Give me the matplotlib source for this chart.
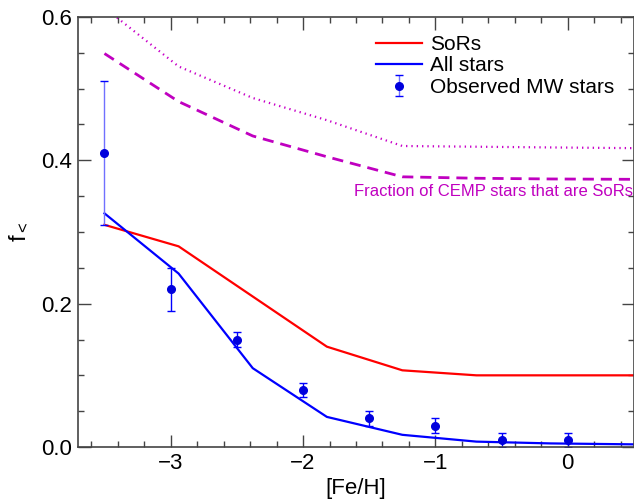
import matplotlib
matplotlib.use("Agg")
import matplotlib.pyplot as plt
from matplotlib.ticker import MultipleLocator

plt.rcParams['font.family'] = ['Liberation Sans', 'DejaVu Sans']
plt.rcParams['mathtext.fontset'] = 'custom'
plt.rcParams['mathtext.rm'] = 'Liberation Sans'
plt.rcParams['mathtext.it'] = 'Liberation Sans'

# model grid in [Fe/H]
feh_model = [-3.5, -2.94, -2.38, -1.82, -1.25, -0.69, -0.13, 0.5]
sors = [0.31, 0.28, 0.21, 0.14, 0.107, 0.100, 0.100, 0.100]
all_stars = [0.326, 0.242, 0.110, 0.042, 0.017, 0.0075, 0.005, 0.0037]
cemp_dashed = [0.549, 0.482, 0.434, 0.405, 0.377, 0.375, 0.374, 0.3735]
cemp_dotted = [0.613, 0.531, 0.487, 0.456, 0.420, 0.419, 0.418, 0.417]

# observed Milky Way stars
feh_obs = [-3.5, -3.0, -2.5, -2.0, -1.5, -1.0, -0.5, 0.0]
f_obs = [0.41, 0.22, 0.15, 0.08, 0.04, 0.03, 0.01, 0.01]
f_err = [0.10, 0.03, 0.01, 0.01, 0.01, 0.01, 0.01, 0.01]

fig = plt.figure(figsize=(6.34, 5.04), dpi=100)
ax = fig.add_axes([78/634, 57/504, 556/634, 430/504])

ax.plot(feh_model, sors, color='red', lw=1.6, label='SoRs')
ax.plot(feh_model, all_stars, color='blue', lw=1.6, label='All stars')
eb = ax.errorbar(feh_obs, f_obs, yerr=f_err, fmt='o', color='#0000dd', ms=5.5,
                 ecolor='blue', elinewidth=1, capsize=3,
                 label='Observed MW stars')
# the first error bar is drawn fainter in the original
eb[2][0].set_color(['#7070ff'] + ['blue'] * (len(feh_obs) - 1))
ax.plot(feh_model, cemp_dashed, color='#c000c0', lw=2, ls=(0, (4, 2.5)))
ax.plot(feh_model, cemp_dotted, color='#c800c8', lw=1.6, ls=(0, (0.6, 1.8)))

ax.text(0.49, 0.356, 'Fraction of CEMP stars that are SoRs', color='#c000c0',
        fontsize=12, ha='right', va='center')

ax.set_xlim(-3.7, 0.5)
ax.set_ylim(0, 0.6)
ax.set_xticks([-3, -2, -1, 0])
ax.set_xticklabels(['\u22123', '\u22122', '\u22121', '0'])
ax.set_yticks([0.0, 0.2, 0.4, 0.6])
ax.set_yticklabels(['0.0', '0.2', '0.4', '0.6'])
ax.xaxis.set_minor_locator(MultipleLocator(0.2))
ax.yaxis.set_minor_locator(MultipleLocator(0.05))
ax.tick_params(which='both', direction='in', top=True, right=True,
               labelsize=16, color='#444444', width=1)
ax.tick_params(which='major', length=9, pad=4)
ax.tick_params(which='minor', length=4.5)
for s in ax.spines.values():
    s.set_color('#444444')
    s.set_linewidth(1.2)

ax.set_xlabel('[Fe/H]', fontsize=16, labelpad=3)
ax.set_ylabel('f$_<$', fontsize=17, labelpad=8)

ax.legend(loc='upper right', frameon=False, fontsize=15, handlelength=2.2,
          handletextpad=0.4, labelspacing=0.12, borderaxespad=0,
          bbox_to_anchor=(0.98, 0.978))

fig.savefig('out.png', dpi=100)
